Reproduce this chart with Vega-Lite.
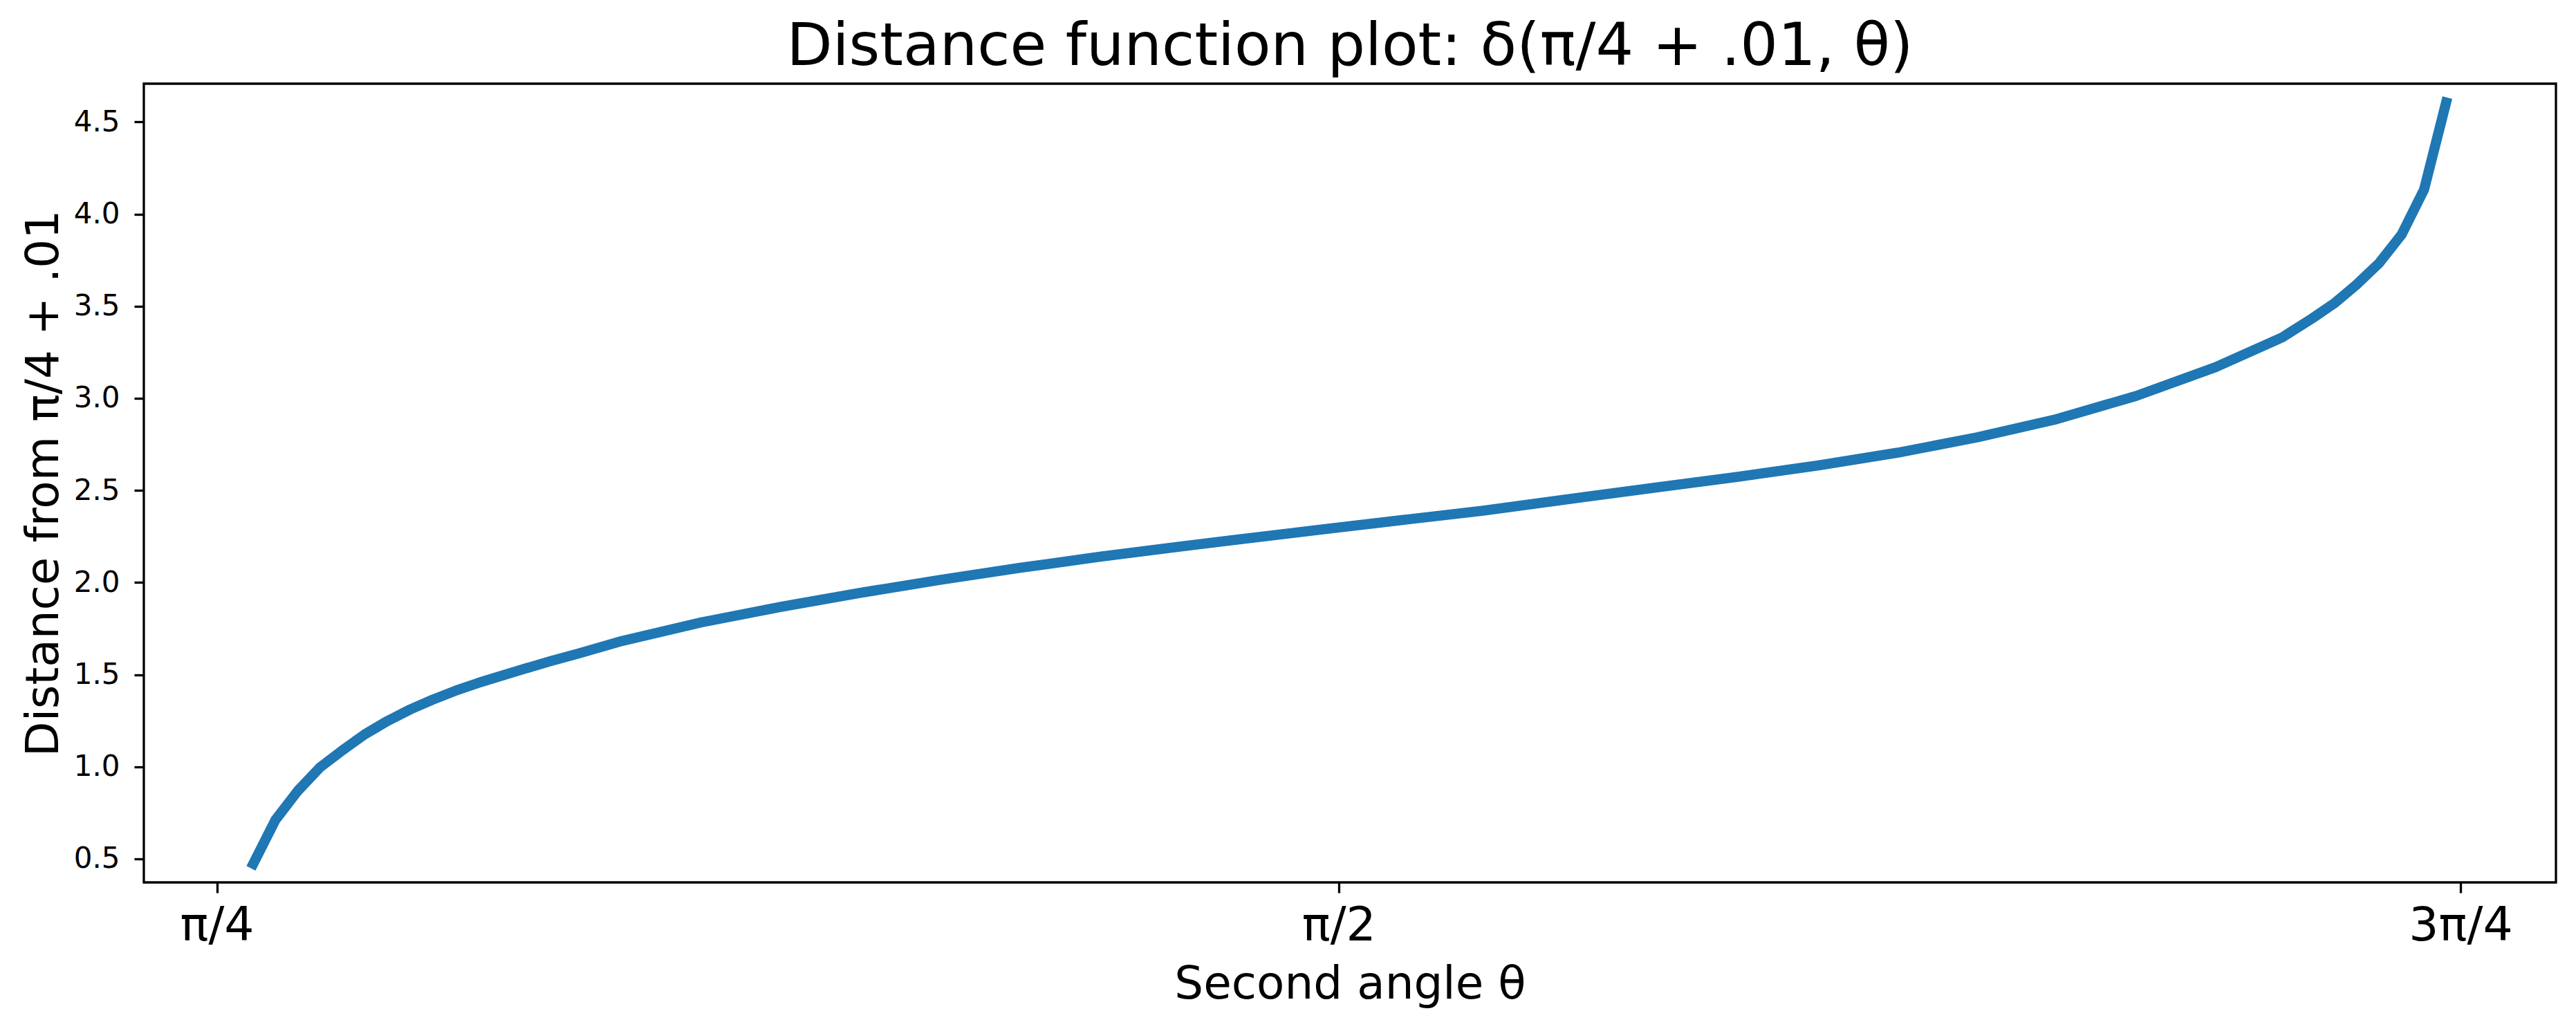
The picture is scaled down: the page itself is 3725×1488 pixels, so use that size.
{
  "$schema": "https://vega.github.io/schema/vega-lite/v6.json",
  "width": 3488,
  "height": 1155,
  "autosize": {"type": "none"},
  "padding": {"left": 208, "top": 121, "right": 29, "bottom": 212},
  "background": "white",
  "config": {
    "font": "DejaVu Sans",
    "view": {"stroke": "black", "strokeWidth": 3.3}
  },
  "title": {
    "text": "Distance function plot: δ(π/4 + .01, θ)",
    "font": "DejaVu Sans",
    "fontSize": 86,
    "fontWeight": "normal",
    "color": "black",
    "anchor": "middle",
    "baseline": "alphabetic",
    "offset": 24,
    "dy": 83
  },
  "data": {
    "values": [
      {"theta": 0.8109, "distance": 0.473},
      {"theta": 0.8264, "distance": 0.711},
      {"theta": 0.8421, "distance": 0.869},
      {"theta": 0.8576, "distance": 0.996},
      {"theta": 0.8735, "distance": 1.090},
      {"theta": 0.8890, "distance": 1.176},
      {"theta": 0.9050, "distance": 1.249},
      {"theta": 0.9208, "distance": 1.311},
      {"theta": 0.9365, "distance": 1.364},
      {"theta": 0.9523, "distance": 1.412},
      {"theta": 0.9680, "distance": 1.454},
      {"theta": 0.9838, "distance": 1.492},
      {"theta": 1.0009, "distance": 1.532},
      {"theta": 1.0195, "distance": 1.574},
      {"theta": 1.0382, "distance": 1.614},
      {"theta": 1.0692, "distance": 1.683},
      {"theta": 1.1248, "distance": 1.784},
      {"theta": 1.1804, "distance": 1.868},
      {"theta": 1.2360, "distance": 1.944},
      {"theta": 1.2915, "distance": 2.014},
      {"theta": 1.3471, "distance": 2.079},
      {"theta": 1.4028, "distance": 2.139},
      {"theta": 1.4584, "distance": 2.194},
      {"theta": 1.5050, "distance": 2.238},
      {"theta": 1.5606, "distance": 2.289},
      {"theta": 1.6162, "distance": 2.340},
      {"theta": 1.6718, "distance": 2.390},
      {"theta": 1.7274, "distance": 2.448},
      {"theta": 1.7956, "distance": 2.518},
      {"theta": 1.8512, "distance": 2.575},
      {"theta": 1.9067, "distance": 2.636},
      {"theta": 1.9623, "distance": 2.705},
      {"theta": 2.0179, "distance": 2.788},
      {"theta": 2.0735, "distance": 2.887},
      {"theta": 2.1292, "distance": 3.013},
      {"theta": 2.1848, "distance": 3.169},
      {"theta": 2.2314, "distance": 3.331},
      {"theta": 2.2524, "distance": 3.434},
      {"theta": 2.2677, "distance": 3.515},
      {"theta": 2.2831, "distance": 3.615},
      {"theta": 2.2992, "distance": 3.734},
      {"theta": 2.3150, "distance": 3.890},
      {"theta": 2.3307, "distance": 4.134},
      {"theta": 2.3461, "distance": 4.606}
    ]
  },
  "mark": {
    "type": "line",
    "color": "#1f77b4",
    "strokeWidth": 14.6,
    "strokeCap": "square",
    "strokeJoin": "round",
    "clip": true
  },
  "encoding": {
    "x": {
      "field": "theta",
      "type": "quantitative",
      "scale": {"domain": [0.7343, 2.4230], "nice": false, "zero": false},
      "axis": {
        "values": [0.7853981634, 1.5707963268, 2.3561944902],
        "labelExpr": "datum.value < 1 ? 'π/4' : (datum.value < 2 ? 'π/2' : '3π/4')",
        "title": "Second angle θ",
        "domain": false,
        "grid": false,
        "ticks": true,
        "tickSize": 15,
        "tickWidth": 3.3,
        "tickColor": "black",
        "labelFont": "DejaVu Sans",
        "labelFontSize": 68,
        "labelColor": "black",
        "labelBaseline": "alphabetic",
        "labelPadding": 68,
        "labelFlush": false,
        "labelOverlap": false,
        "titleFont": "DejaVu Sans",
        "titleFontSize": 66,
        "titleFontWeight": "normal",
        "titleColor": "black",
        "titleBaseline": "alphabetic",
        "titleY": 167
      }
    },
    "y": {
      "field": "distance",
      "type": "quantitative",
      "scale": {"domain": [0.372, 4.708], "nice": false, "zero": false},
      "axis": {
        "values": [0.5, 1.0, 1.5, 2.0, 2.5, 3.0, 3.5, 4.0, 4.5],
        "format": ".1f",
        "title": "Distance from π/4 + .01",
        "domain": false,
        "grid": false,
        "tickSize": 14,
        "tickWidth": 3.3,
        "tickColor": "black",
        "labelFont": "DejaVu Sans",
        "labelFontSize": 42,
        "labelColor": "black",
        "labelPadding": 21,
        "labelOverlap": false,
        "labelFlush": false,
        "titleFont": "DejaVu Sans",
        "titleFontSize": 66,
        "titleFontWeight": "normal",
        "titleColor": "black",
        "titleBaseline": "alphabetic",
        "titleX": -125
      }
    }
  }
}
